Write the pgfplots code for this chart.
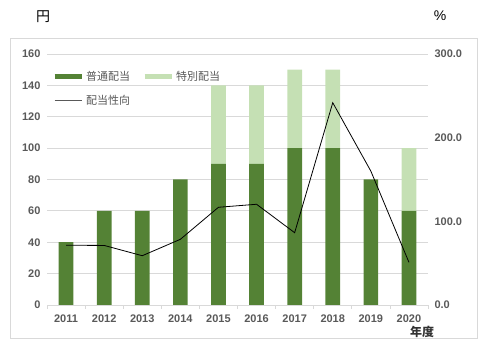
\documentclass[border=0pt]{standalone}
\usepackage{pgfplots}
\pgfplotsset{compat=1.18}
\usepackage{fontspec}
\setmainfont{Liberation Sans}
\newfontfamily\cjk{Noto Sans CJK JP}
\definecolor{dkg}{HTML}{548235}
\definecolor{ltg}{HTML}{C5E0B4}
\definecolor{txt}{HTML}{595959}
\definecolor{grd}{HTML}{D9D9D9}
\begin{document}
\begin{tikzpicture}
\path[use as bounding box] (0pt,0pt) rectangle (500pt,352pt);
\draw[grd, line width=0.8pt] (10pt,14pt) rectangle (477pt,314pt);
\node[font=\cjk\fontsize{14}{16}\selectfont] at (43pt,335pt) {円};
\node[font=\fontsize{14}{16}\selectfont] at (440pt,336pt) {\%};
\node[font=\cjk\fontsize{12}{14}\selectfont\bfseries, text=black!80] at (422pt,20pt) {年度};
\begin{axis}[
  at={(47pt,47pt)}, anchor=south west,
  scale only axis, width=381pt, height=251pt,
  xmin=-0.5, xmax=9.5, ymin=0, ymax=160,
  ytick={0,20,...,160},
  xtick={0,...,9},
  xticklabels={2011,2012,2013,2014,2015,2016,2017,2018,2019,2020},
  minor xtick={-0.5,0.5,...,9.5},
  major tick length=0pt, minor tick length=4pt,
  tick align=outside,
  minor tick style={grd, line width=0.8pt},
  axis x line*=bottom, axis y line*=left,
  x axis line style={grd, line width=0.8pt, -},
  y axis line style={draw=none},
  ymajorgrids, grid style={grd, line width=0.8pt},
  /pgf/number format/assume math mode=true,
  ticklabel style={font=\fontsize{11}{13}\selectfont\bfseries, text=txt},
  xticklabel style={yshift=-6pt},
  yticklabel style={xshift=-3pt},
  ybar stacked, bar width=14.7pt,
  legend columns=2,
  legend style={at={(0.005,0.95)}, anchor=north west, draw=none, fill=none,
    font=\cjk\fontsize{11}{13}\selectfont, text=txt,
    /tikz/every even column/.append style={column sep=10pt},
    row sep=10pt},
]
\addplot[fill=dkg, draw=none, forget plot] coordinates {(0,40) (1,60) (2,60) (3,80) (4,90) (5,90) (6,100) (7,100) (8,80) (9,60)};
\addplot[fill=ltg, draw=none, forget plot] coordinates {(0,0) (1,0) (2,0) (3,0) (4,50) (5,50) (6,50) (7,50) (8,0) (9,40)};
\addlegendimage{legend image code/.code={\draw[dkg, line width=5pt] (0,0) -- (27pt,0);}}
\addlegendentry{普通配当}
\addlegendimage{legend image code/.code={\draw[ltg, line width=5pt] (0,0) -- (27pt,0);}}
\addlegendentry{特別配当}
\addlegendimage{legend image code/.code={\draw[txt, line width=0.9pt] (0,0) -- (27pt,0);}}
\addlegendentry{配当性向}
\end{axis}
\begin{axis}[
  at={(47pt,47pt)}, anchor=south west,
  scale only axis, width=381pt, height=251pt,
  xmin=-0.5, xmax=9.5, ymin=0, ymax=300,
  ytick={0,100,200,300},
  axis x line=none, axis y line*=right,
  y axis line style={draw=none},
  major tick length=0pt,
  /pgf/number format/assume math mode=true,
  ticklabel style={font=\fontsize{11}{13}\selectfont\bfseries, text=txt},
  yticklabel style={xshift=3pt, /pgf/number format/.cd, fixed, fixed zerofill, precision=1},
]
\addplot[black, line width=0.8pt, mark=none] coordinates {(0,71.4) (1,71.2) (2,58.9) (3,78.5) (4,116.8) (5,120.4) (6,86.4) (7,241.8) (8,160) (9,51)};
\end{axis}
\end{tikzpicture}
\end{document}
